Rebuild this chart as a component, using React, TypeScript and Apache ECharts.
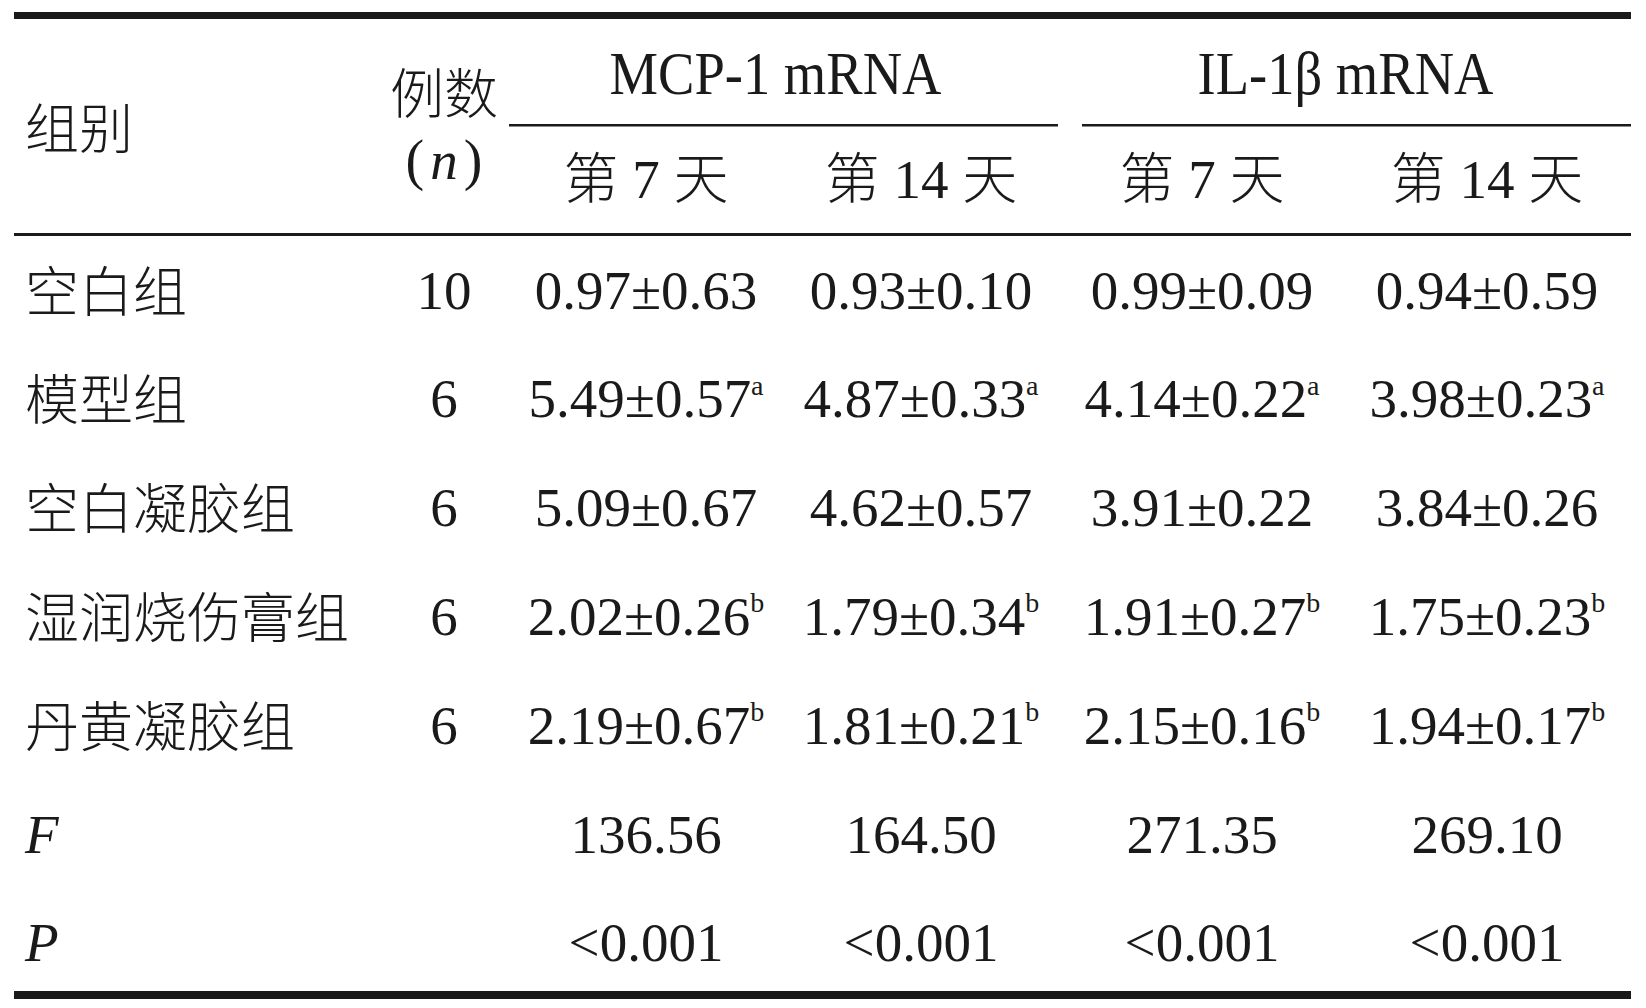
import React, { useEffect, useRef } from 'react';
import * as echarts from 'echarts';

// ---------- data ----------
const groups = ['空白组', '模型组', '空白凝胶组', '湿润烧伤膏组', '丹黄凝胶组'];
const nValues = [10, 6, 6, 6, 6];
const mcp7Mean = [0.97, 5.49, 5.09, 2.02, 2.19];
const mcp7Sd = [0.63, 0.57, 0.67, 0.26, 0.67];
const mcp14Mean = [0.93, 4.87, 4.62, 1.79, 1.81];
const mcp14Sd = [0.10, 0.33, 0.57, 0.34, 0.21];
const il7Mean = [0.99, 4.14, 3.91, 1.91, 2.15];
const il7Sd = [0.09, 0.22, 0.22, 0.27, 0.16];
const il14Mean = [0.94, 3.98, 3.84, 1.75, 1.94];
const il14Sd = [0.59, 0.23, 0.26, 0.23, 0.17];
const sigMarks = ['', 'a', '', 'b', 'b'];
const fValues = ['136.56', '164.50', '271.35', '269.10'];
const pValues = ['<0.001', '<0.001', '<0.001', '<0.001'];
const headGroup = '组别';
const headN1 = '例数';
const headN2 = 'n';
const headGenes = ['MCP-1 mRNA', 'IL-1β mRNA'];
const headDays = ['第 7 天', '第 14 天', '第 7 天', '第 14 天'];
const statLabels = ['F', 'P'];

// ---------- layout ----------
const INK = '#1a1a1a';
const LATIN = '"Liberation Serif", "Times New Roman", serif';
const CJK = '"Noto Sans CJK SC", sans-serif';
const MIX = '"Liberation Serif", "Noto Sans CJK SC", serif';
const CJK_WEIGHT = 300;
const LEFT = 14;
const RIGHT = 1631;
const LABEL_X = 25;
const N_X = 444;
const COL_X = [646, 921, 1202, 1487];
const ROW_Y0 = 290;
const ROW_STEP = 108.8;

function txt(x: number, y: number, text: string, o: any = {}) {
  const align = o.align || 'center';
  const fs = o.fontSize || 55;
  return {
    type: 'text',
    x,
    y,
    silent: true,
    scaleX: o.scaleX || 1,
    style: {
      text,
      fill: INK,
      fontSize: fs,
      fontFamily: o.fontFamily || LATIN,
      fontStyle: o.fontStyle || 'normal',
      fontWeight: o.fontWeight || 'normal',
      lineHeight: o.lineHeight || fs,
      align,
      verticalAlign: 'middle',
      textAlign: align,
      textVerticalAlign: 'middle',
      rich: o.rich,
    },
  };
}

function rule(x1: number, x2: number, y: number, h: number) {
  return {
    type: 'rect',
    silent: true,
    shape: { x: x1, y, width: x2 - x1, height: h },
    style: { fill: INK },
  };
}

const valueRich = {
  v: { fontSize: 55, fontFamily: LATIN, fill: INK, lineHeight: 55, verticalAlign: 'middle' },
  s: { fontSize: 28, fontFamily: LATIN, fill: INK, lineHeight: 38, verticalAlign: 'top' },
};

export default function App() {
  const ref = useRef<HTMLDivElement>(null);
  useEffect(() => {
    if (!ref.current) return;
    const chart = echarts.init(ref.current, null, { renderer: 'svg' });
    const els: any[] = [];

    // rules
    els.push(rule(LEFT, RIGHT, 12, 7));
    els.push(rule(509, 1058, 124, 2.5));
    els.push(rule(1082, RIGHT, 124, 2.5));
    els.push(rule(LEFT, RIGHT, 233, 3));
    els.push(rule(LEFT, RIGHT, 991, 8));

    // header
    els.push(txt(LABEL_X, 125, headGroup, { align: 'left', fontFamily: CJK, fontSize: 54, fontWeight: CJK_WEIGHT }));
    els.push(txt(N_X, 90, headN1, { fontFamily: CJK, fontSize: 54, fontWeight: CJK_WEIGHT }));
    els.push(
      txt(N_X, 160, `{p|(}{i|${headN2}}{p|)}`, {
        rich: {
          p: { fontSize: 56, fontFamily: LATIN, fill: INK, lineHeight: 56, padding: [0, 6] },
          i: { fontSize: 55, fontFamily: LATIN, fontStyle: 'italic', fill: INK, lineHeight: 56 },
        },
      })
    );
    els.push(txt((509 + 1058) / 2 - 8, 73, headGenes[0], { fontSize: 62, scaleX: 0.88 }));
    els.push(txt((1082 + RIGHT) / 2 - 11, 73, headGenes[1], { fontSize: 62, scaleX: 0.88 }));
    headDays.forEach((d, i) => {
      els.push(txt(COL_X[i], 179, d, { fontFamily: MIX, fontSize: 55, fontWeight: CJK_WEIGHT }));
    });

    // body rows
    const means = [mcp7Mean, mcp14Mean, il7Mean, il14Mean];
    const sds = [mcp7Sd, mcp14Sd, il7Sd, il14Sd];
    groups.forEach((g, r) => {
      const y = ROW_Y0 + r * ROW_STEP;
      els.push(txt(LABEL_X, y - 2, g, { align: 'left', fontFamily: CJK, fontSize: 54, fontWeight: CJK_WEIGHT }));
      els.push(txt(N_X, y, String(nValues[r])));
      means.forEach((col, c) => {
        const body = `${col[r].toFixed(2)}±${sds[c][r].toFixed(2)}`;
        const t = `{v|${body}}` + (sigMarks[r] ? `{s|${sigMarks[r]}}` : '');
        els.push(txt(COL_X[c], y, t, { rich: valueRich }));
      });
    });

    // F and P rows
    const statRows = [fValues, pValues];
    statRows.forEach((vals, k) => {
      const y = ROW_Y0 + (groups.length + k) * ROW_STEP;
      els.push(txt(LABEL_X, y, statLabels[k], { align: 'left', fontStyle: 'italic' }));
      vals.forEach((v, c) => {
        els.push(txt(COL_X[c], y, v));
      });
    });

    chart.setOption({ animation: false, graphic: { elements: els } });
    return () => chart.dispose();
  }, []);
  return (
    <div
      ref={ref}
      style={{ position: 'absolute', left: 0, top: 0, width: 1646, height: 1008, background: '#fff' }}
    />
  );
}
